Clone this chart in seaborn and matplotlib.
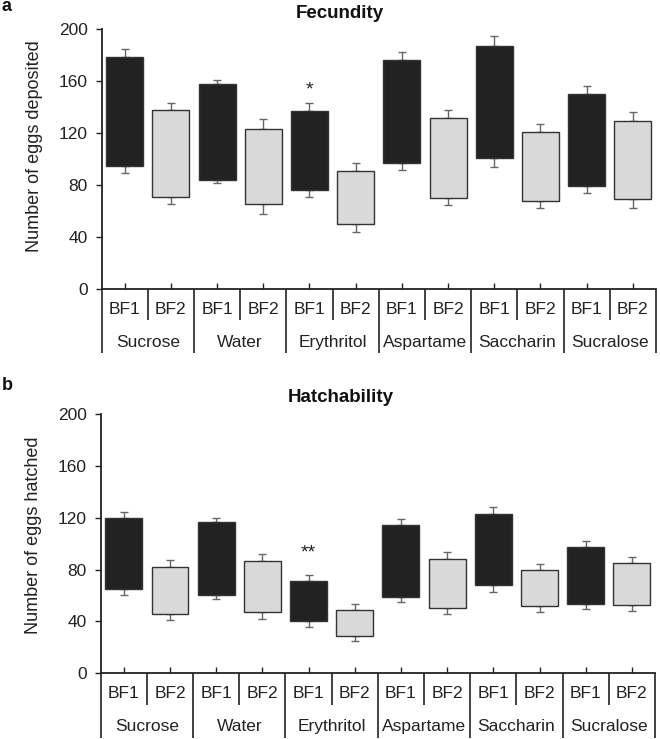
import numpy as np
import pandas as pd
import matplotlib
matplotlib.use('Agg')
import matplotlib.pyplot as plt
import seaborn as sns

# categories
groups = ['Sucrose', 'Water', 'Erythritol', 'Aspartame', 'Saccharin', 'Sucralose']
flies = ['BF1', 'BF2']

# fecundity: box bottom/top and whisker ends, order = groups x flies
fec_low = [95, 71, 84, 65, 76.5, 50, 97, 70, 101, 67.5, 79, 69.5]
fec_high = [179, 138, 158, 123, 137, 91, 176.5, 132, 187.5, 121, 150, 129]
fec_err_low = [89, 65, 81.5, 58, 70.5, 44, 91.5, 64.5, 94, 62, 73.5, 62.5]
fec_err_high = [185, 143.5, 161, 130.5, 143, 97, 182.5, 138, 195, 127, 156, 136.5]

# hatchability
hat_low = [65, 46, 60, 47, 40.5, 29, 59, 50, 68, 52, 53.5, 53]
hat_high = [120, 82, 116.5, 86.5, 71, 49, 114, 88.5, 123, 79.5, 97.5, 85]
hat_err_low = [60.5, 41, 57.5, 41.5, 36, 25, 55, 45.5, 62.5, 47.5, 49.5, 48]
hat_err_high = [124.5, 87, 119.5, 92, 75.5, 53.5, 119, 93.5, 128.5, 84.5, 102, 90]

# significance marks (bar index, y, text)
fec_star = (4, 153, '*')
hat_star = (4, 93, '**')

yticks = [0, 40, 80, 120, 160, 200]

sns.set_style('ticks')
plt.rcParams['font.family'] = ['Liberation Sans', 'DejaVu Sans']

fly_colors = {'BF1': '#222222', 'BF2': '#d9d9d9'}
dark = '#222222'


def draw_panel(ax, low, high, err_low, err_high, ylabel, ylab_y, star):
    low = np.array(low)
    high = np.array(high)
    err_low = np.array(err_low)
    err_high = np.array(err_high)
    bars = [g + ' ' + f for g in groups for f in flies]
    df = pd.DataFrame({'bar': bars, 'height': high - low})
    sns.barplot(data=df, x='bar', y='height', bottom=low, color='#222222',
                saturation=1, errorbar=None, width=0.8, edgecolor='#333333',
                linewidth=1.0, zorder=3, ax=ax)
    for p, f in zip(ax.patches, flies * len(groups)):
        p.set_facecolor(fly_colors[f])

    x = np.arange(len(bars))
    zeros = np.zeros(len(bars))
    ax.errorbar(x, high, yerr=[zeros, err_high - high], fmt='none',
                ecolor='#666666', elinewidth=1.0, capsize=2.6, capthick=1.0, zorder=2)
    ax.errorbar(x, low, yerr=[low - err_low, zeros], fmt='none',
                ecolor='#666666', elinewidth=1.0, capsize=2.6, capthick=1.0, zorder=2)

    ax.text(star[0], star[1], star[2], ha='center', va='center', fontsize=14,
            color=dark)

    ax.set_xlim(-0.5, len(bars) - 0.5)
    ax.set_ylim(0, 200)
    ax.set_yticks(yticks)
    ax.set_xticks(x)
    ax.set_xlabel('')
    ax.set_ylabel('')
    ax.tick_params(axis='x', direction='in', length=4, width=1.0, colors=dark,
                   labelbottom=False)
    ax.tick_params(axis='y', direction='out', length=4, width=1.0, colors=dark,
                   labelsize=12.5, pad=6)
    for s in ['top', 'right']:
        ax.spines[s].set_visible(False)
    for s in ['left', 'bottom']:
        ax.spines[s].set_linewidth(1.3)
        ax.spines[s].set_color(dark)

    ax.text(-0.122, ylab_y, ylabel, transform=ax.transAxes, rotation=90,
            ha='center', va='center', fontsize=13, color=dark)

    # table-like labels under the axis
    tr = ax.get_xaxis_transform()
    for i, b in enumerate(bars):
        ax.text(i, -0.079, flies[i % 2], transform=tr, ha='center', va='center',
                fontsize=12.5, color=dark)
    for g, name in enumerate(groups):
        ax.text(2 * g + 0.5, -0.206, name, transform=tr, ha='center', va='center',
                fontsize=12.5, color=dark)
    for i in range(len(bars) + 1):
        yb = -0.248 if i % 2 == 0 else -0.122
        ax.plot([i - 0.5, i - 0.5], [0, yb], transform=tr, color=dark,
                lw=1.2, clip_on=False, solid_capstyle='butt')


fig = plt.figure(figsize=(6.6, 7.39), dpi=100)
ax1 = fig.add_axes([0.154, 0.6093, 0.8398, 0.351])
ax2 = fig.add_axes([0.1526, 0.0889, 0.8398, 0.351])

draw_panel(ax1, fec_low, fec_high, fec_err_low, fec_err_high,
           'Number of eggs deposited', 0.55, fec_star)
draw_panel(ax2, hat_low, hat_high, hat_err_low, hat_err_high,
           'Number of eggs hatched', 0.533, hat_star)

fig.text(340 / 660, 1 - 17.5 / 739, 'Fecundity', ha='center', va='baseline',
         fontsize=13.5, fontweight='bold', color='#111111')
fig.text(341 / 660, 1 - 401.7 / 739, 'Hatchability', ha='center', va='baseline',
         fontsize=13.5, fontweight='bold', color='#111111')
fig.text(2 / 660, 1 - 11 / 739, 'a', ha='left', va='baseline',
         fontsize=13, fontweight='bold', color='#111111')
fig.text(2 / 660, 1 - 390.5 / 739, 'b', ha='left', va='baseline',
         fontsize=13, fontweight='bold', color='#111111')

fig.savefig('out.png', dpi=100)
